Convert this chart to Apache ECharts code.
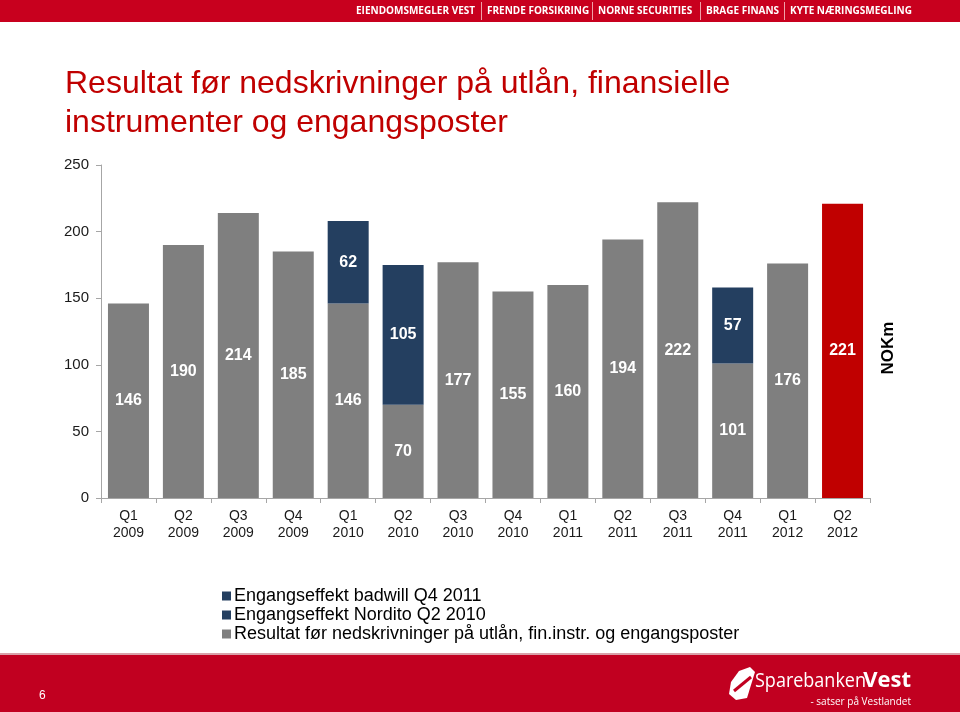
<!DOCTYPE html>
<html><head><meta charset="utf-8">
<script src="https://cdn.jsdelivr.net/npm/echarts@6/dist/echarts.min.js"></script>
<style>html,body{margin:0;padding:0;background:#fff}#c{width:960px;height:712px}</style>
</head><body><div id="c"></div>
<script>
const categories = ['Q1\n2009','Q2\n2009','Q3\n2009','Q4\n2009','Q1\n2010','Q2\n2010','Q3\n2010','Q4\n2010','Q1\n2011','Q2\n2011','Q3\n2011','Q4\n2011','Q1\n2012','Q2\n2012'];
const resultat = [146,190,214,185,146,70,177,155,160,194,222,101,176,221];
const nordito  = [null,null,null,null,62,105,null,null,null,null,null,null,null,null];
const badwill  = [null,null,null,null,null,null,null,null,null,null,null,57,null,null];
const yTicks = [0,50,100,150,200,250];
const headerItems = ['EIENDOMSMEGLER VEST','FRENDE FORSIKRING','NORNE SECURITIES','BRAGE FINANS','KYTE NÆRINGSMEGLING'];
const headerX = [356,487,598,706,790];

const GRAY='#7f7f7f', NAVY='#243f60', RED='#c00000';
const chart = echarts.init(document.getElementById('c'));
const lbl = {show:true, position:'inside', color:'#fff', fontSize:16, fontWeight:'bold', fontFamily:'Liberation Sans'};

const graphics = [
  {type:'rect', shape:{x:0,y:0,width:960,height:22}, style:{fill:'#c8001e'}},
  {type:'rect', shape:{x:0,y:654,width:960,height:58}, style:{fill:'#c10020'}},
  {type:'rect', shape:{x:0,y:653,width:960,height:2}, style:{fill:'#d9a0a8'}},
  {type:'text', x:65, y:65, style:{text:'Resultat før nedskrivninger på utlån, finansielle\ninstrumenter og engangsposter', fill:'#c00000', font:'32px "Liberation Sans"', lineHeight:39}},
  {type:'text', x:39, y:690, style:{text:'6', fill:'#fff', font:'12px "Liberation Sans"'}},
  {type:'text', x:911, y:670, style:{text:'Vest', align:'right', fill:'#fff', font:'bold 22px "Open Sans"'}},
  {type:'text', x:866, y:671, scaleX:0.9, originX:0, originY:0, style:{text:'Sparebanken', align:'right', fill:'#fff', font:'20px "Open Sans"'}},
  {type:'text', x:911, y:697, style:{text:'- satser på Vestlandet', fill:'#fff', font:'10px "Open Sans"', align:'right'}},
  {type:'polygon', shape:{points:[[739,671],[750,667],[755,672],[747,698],[736,700],[729,694],[731,682]]}, style:{fill:'#fff'}},
  {type:'line', shape:{x1:734,y1:691,x2:751,y2:677}, style:{stroke:'#c10020', lineWidth:3}},
  {type:'text', x:888, y:348, rotation:Math.PI/2, style:{text:'NOKm', fill:'#000', font:'bold 17px "Liberation Sans"', align:'center', verticalAlign:'middle'}}
];
headerItems.forEach((t,i)=>{
  graphics.push({type:'text', x:headerX[i], y:6, style:{text:t, fill:'#fff', font:'bold 10px "Open Sans"'}});
  if(i>0) graphics.push({type:'rect', shape:{x:headerX[i]-6,y:2,width:1,height:18}, style:{fill:'#f0a0a8'}});
});

chart.setOption({
  animation:false,
  textStyle:{fontFamily:'Liberation Sans'},
  grid:{left:101, right:90, top:165, bottom:214, containLabel:false},
  legend:{orient:'vertical', left:217, top:582, itemWidth:9, itemHeight:9, itemGap:1,
    icon:'rect',
    data:['Engangseffekt badwill Q4 2011','Engangseffekt Nordito Q2 2010','Resultat før nedskrivninger på utlån, fin.instr. og engangsposter'],
    textStyle:{fontSize:18, color:'#000', fontFamily:'Liberation Sans', padding:[0,0,0,-2]}},
  xAxis:{type:'category', data:categories,
    axisLine:{lineStyle:{color:'#a6a6a6'}}, axisTick:{show:true, length:5, lineStyle:{color:'#a6a6a6'}},
    axisLabel:{color:'#1a1a1a', fontSize:14, lineHeight:17, margin:10}},
  yAxis:{type:'value', min:0, max:250, interval:50,
    axisLine:{show:true, lineStyle:{color:'#a6a6a6'}}, axisTick:{show:true, length:5, lineStyle:{color:'#a6a6a6'}},
    splitLine:{show:false},
    axisLabel:{color:'#1a1a1a', fontSize:15, margin:12, formatter:v=>yTicks.includes(v)?String(v):''}},
  series:[
    {name:'Resultat før nedskrivninger på utlån, fin.instr. og engangsposter', type:'bar', stack:'a', barWidth:41,
      data: resultat.map((v,i)=> i===13 ? {value:v, itemStyle:{color:RED}} : v),
      itemStyle:{color:GRAY}, label:lbl},
    {name:'Engangseffekt Nordito Q2 2010', type:'bar', stack:'a', data:nordito, itemStyle:{color:NAVY}, label:lbl},
    {name:'Engangseffekt badwill Q4 2011', type:'bar', stack:'a', data:badwill, itemStyle:{color:NAVY}, label:lbl}
  ],
  graphic:graphics
});
</script></body></html>
